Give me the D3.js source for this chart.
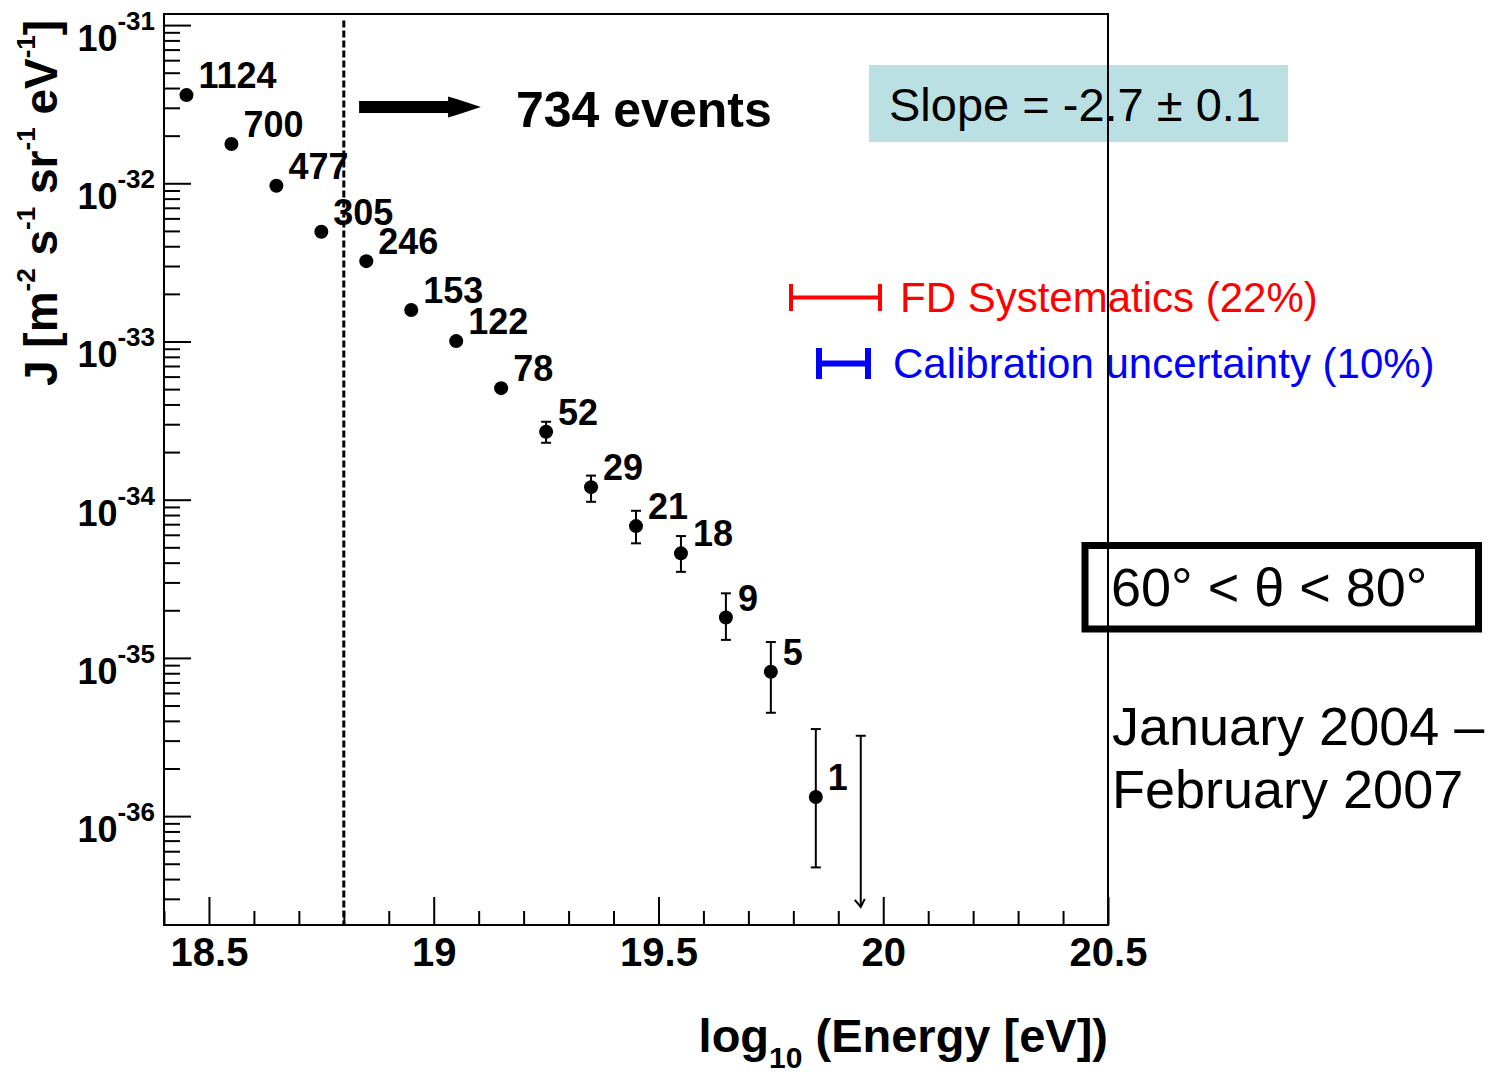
<!DOCTYPE html>
<html>
<head>
<meta charset="utf-8">
<script src="https://cdn.jsdelivr.net/npm/d3@7"></script>
<style>
  html, body { margin: 0; padding: 0; background: #fff; }
  svg { display: block; }
  text { font-family: "Liberation Sans", Arial, Helvetica, sans-serif; }
</style>
</head>
<body>
<svg id="chart" width="1507" height="1075"></svg>
<script>
// Energy bin centres, log10(E/eV)
const energyBins = [18.45, 18.55, 18.65, 18.75, 18.85, 18.95, 19.05, 19.15,
                    19.25, 19.35, 19.45, 19.55, 19.65, 19.75, 19.85];
// Flux J [m^-2 s^-1 sr^-1 eV^-1]
const flux = [3.61e-32, 1.77e-32, 9.64e-33, 4.94e-33, 3.22e-33, 1.58e-33, 1.006e-33, 5.07e-34,
              2.69e-34, 1.20e-34, 6.81e-35, 4.58e-35, 1.80e-35, 8.17e-36, 1.32e-36];
const fluxLow = [3.52e-32, 1.72e-32, 9.30e-33, 4.72e-33, 3.06e-33, 1.47e-33, 0.93e-33, 4.70e-34,
                 2.29e-34, 9.70e-35, 5.30e-35, 3.50e-35, 1.30e-35, 4.50e-36, 4.74e-37];
const fluxHigh = [3.70e-32, 1.82e-32, 1.00e-32, 5.17e-33, 3.39e-33, 1.70e-33, 1.09e-33, 5.45e-34,
                  3.11e-34, 1.42e-34, 8.51e-35, 5.89e-35, 2.56e-35, 1.26e-35, 3.55e-36];
// Number of events per bin
const eventCounts = [1124, 700, 477, 305, 246, 153, 122, 78, 52, 29, 21, 18, 9, 5, 1];
// Upper limit in the last bin
const limitBin = 19.95;
const limitTop = 3.22e-36;
const limitBottom = 2.67e-37;
// Energy threshold above which events are counted
const thresholdEnergy = 18.8;
const thresholdTop = 1.07e-31;

// Axis ticks
const xMajorTicks = [18.5, 19, 19.5, 20, 20.5];
const xMinorTicks = d3.range(184, 205).map(d => d / 10).filter(d => !xMajorTicks.includes(d));
const yMajorExponents = [-31, -32, -33, -34, -35, -36];

const xDomain = [18.4, 20.5];
const yDomain = [2.05e-37, 1.175e-31];

const svg = d3.select("#chart");
const frame = { left: 164, right: 1108, top: 14, bottom: 925 };

const x = d3.scaleLinear().domain(xDomain).range([frame.left, frame.right]);
const y = d3.scaleLog().domain(yDomain).range([frame.bottom, frame.top]);

const font = '"Liberation Sans", Arial, Helvetica, sans-serif';

// ---- Axes ----
const yMajor = yMajorExponents.map(e => Math.pow(10, e));
const yMinor = [];
for (let e = -37; e <= -31; e++) {
  for (let k = 2; k <= 9; k++) {
    const v = k * Math.pow(10, e);
    if (v >= yDomain[0] && v <= yDomain[1]) yMinor.push(v);
  }
}

const axisStyle = g => {
  g.select(".domain").remove();
  g.selectAll("line").attr("stroke", "#000").attr("stroke-width", 2);
};

svg.append("g")
  .attr("transform", `translate(${frame.left},0)`)
  .call(d3.axisLeft(y).tickValues(yMinor).tickSize(-16).tickFormat(""))
  .call(axisStyle);
svg.append("g")
  .attr("transform", `translate(${frame.left},0)`)
  .call(d3.axisLeft(y).tickValues(yMajor).tickSize(-27).tickFormat(""))
  .call(axisStyle);

svg.append("g")
  .attr("transform", `translate(0,${frame.bottom})`)
  .call(d3.axisBottom(x).tickValues(xMinorTicks).tickSize(-14).tickFormat(""))
  .call(axisStyle);
const xAxisG = svg.append("g")
  .attr("transform", `translate(0,${frame.bottom})`)
  .call(d3.axisBottom(x).tickValues(xMajorTicks).tickSize(-28).tickPadding(13)
        .tickFormat(d => String(d)))
  .call(axisStyle);
xAxisG.selectAll("text")
  .attr("font-family", font)
  .attr("font-size", 40)
  .attr("font-weight", "bold")
  .attr("fill", "#000");

// Y tick labels as 10^n
const yLabels = svg.append("g");
yMajorExponents.forEach(e => {
  const t = yLabels.append("text")
    .attr("x", 155)
    .attr("y", y(Math.pow(10, e)) + 26)
    .attr("text-anchor", "end")
    .attr("font-weight", "bold")
    .attr("fill", "#000");
  t.append("tspan").attr("font-size", 36).text("10");
  t.append("tspan").attr("font-size", 26).attr("dy", -21).text(String(e));
});

// Axis titles
const yTitle = svg.append("text")
  .attr("transform", `translate(57,386) rotate(-90)`)
  .attr("font-weight", "bold")
  .attr("font-size", 46)
  .attr("fill", "#000");
const supShift = 22;
const yTitleParts = [["J [m", false], ["-2", true], [" s", false], ["-1", true],
                     [" sr", false], ["-1", true], [" eV", false], ["-1", true], ["]", false]];
let prevSup = false;
yTitleParts.forEach(([s, sup]) => {
  const ts = yTitle.append("tspan").text(s);
  if (sup) ts.attr("font-size", 26).attr("dy", -supShift);
  else if (prevSup) ts.attr("dy", supShift);
  prevSup = sup;
});

const xTitle = svg.append("text")
  .attr("x", frame.right)
  .attr("y", 1052)
  .attr("text-anchor", "end")
  .attr("font-weight", "bold")
  .attr("font-size", 47)
  .attr("fill", "#000");
xTitle.append("tspan").text("log");
xTitle.append("tspan").attr("font-size", 30).attr("dy", 16).text("10");
xTitle.append("tspan").attr("dy", -16).text(" (Energy [eV])");

// ---- Threshold line and annotation ----
svg.append("line")
  .attr("x1", x(thresholdEnergy)).attr("x2", x(thresholdEnergy))
  .attr("y1", y(thresholdTop)).attr("y2", frame.bottom)
  .attr("stroke", "#000").attr("stroke-width", 3)
  .attr("stroke-dasharray", "7,3");

const arrowY = 107;
const ax0 = x(18.834), axHead = x(19.032), axTip = x(19.105);
svg.append("path")
  .attr("d", `M${ax0},${arrowY - 6} L${axHead},${arrowY - 6} L${axHead},${arrowY - 10.5}
              L${axHead + 10},${arrowY - 7.5} L${axTip},${arrowY} L${axHead + 10},${arrowY + 7.5}
              L${axHead},${arrowY + 10.5} L${axHead},${arrowY + 6} L${ax0},${arrowY + 6} Z`)
  .attr("fill", "#000");

svg.append("text")
  .attr("x", 516).attr("y", 127)
  .attr("font-weight", "bold").attr("font-size", 50)
  .attr("fill", "#000")
  .text("734 events");

// ---- Data points ----
const pts = energyBins.map((e, i) => ({
  e, j: flux[i], lo: fluxLow[i], hi: fluxHigh[i], n: eventCounts[i]
}));
const r = 7;
const capW = 5;

const pg = svg.append("g");
pts.forEach(p => {
  const cx = x(p.e), cy = y(p.j), yHi = y(p.hi), yLo = y(p.lo);
  pg.append("line").attr("x1", cx).attr("x2", cx).attr("y1", yHi).attr("y2", yLo)
    .attr("stroke", "#000").attr("stroke-width", 2);
  if (cy - yHi > r + 1) {
    pg.append("line").attr("x1", cx - capW).attr("x2", cx + capW).attr("y1", yHi).attr("y2", yHi)
      .attr("stroke", "#000").attr("stroke-width", 2);
  }
  if (yLo - cy > r + 1) {
    pg.append("line").attr("x1", cx - capW).attr("x2", cx + capW).attr("y1", yLo).attr("y2", yLo)
      .attr("stroke", "#000").attr("stroke-width", 2);
  }
  pg.append("circle").attr("cx", cx).attr("cy", cy).attr("r", r).attr("fill", "#000");
  pg.append("text")
    .attr("x", cx + 12).attr("y", cy - 7)
    .attr("font-weight", "bold").attr("font-size", 36)
    .attr("fill", "#000")
    .text(p.n);
});

// Upper limit in the last bin
const lx = x(limitBin);
pg.append("line").attr("x1", lx).attr("x2", lx).attr("y1", y(limitTop)).attr("y2", y(limitBottom))
  .attr("stroke", "#000").attr("stroke-width", 2);
pg.append("line").attr("x1", lx - capW).attr("x2", lx + capW)
  .attr("y1", y(limitTop)).attr("y2", y(limitTop))
  .attr("stroke", "#000").attr("stroke-width", 2);
pg.append("path")
  .attr("d", `M${lx - 6},${y(limitBottom) - 7} L${lx},${y(limitBottom)} L${lx + 4},${y(limitBottom) - 8}`)
  .attr("fill", "none").attr("stroke", "#000").attr("stroke-width", 2);

// ---- Slope box ----
svg.append("rect")
  .attr("x", 869).attr("y", 65).attr("width", 419).attr("height", 77)
  .attr("fill", "#bae0e3");
svg.append("text")
  .attr("x", 889).attr("y", 121)
  .attr("font-size", 47).attr("fill", "#000")
  .text("Slope = -2.7 \u00b1 0.1");

// ---- Systematics legend ----
svg.append("path")
  .attr("d", "M791,284 V311 M791,297.5 H880 M880,284 V311")
  .attr("fill", "none").attr("stroke", "#ff0000").attr("stroke-width", 4);
svg.append("text")
  .attr("x", 900).attr("y", 312)
  .attr("font-size", 42).attr("fill", "#ff0000")
  .text("FD Systematics (22%)");

svg.append("path")
  .attr("d", "M819,348 V379 M819,363.5 H868 M868,348 V379")
  .attr("fill", "none").attr("stroke", "#0000ff").attr("stroke-width", 6);
svg.append("text")
  .attr("x", 893).attr("y", 378)
  .attr("font-size", 42).attr("fill", "#0000ff")
  .text("Calibration uncertainty (10%)");

// ---- Zenith range and period ----
svg.append("text")
  .attr("x", 1111).attr("y", 606)
  .attr("font-size", 54).attr("fill", "#000")
  .text("60\u00b0 < \u03b8 < 80\u00b0");
svg.append("text")
  .attr("x", 1112).attr("y", 745)
  .attr("font-size", 54).attr("fill", "#000")
  .text("January 2004 \u2013");
svg.append("text")
  .attr("x", 1112).attr("y", 808)
  .attr("font-size", 54).attr("fill", "#000")
  .text("February 2007");

// ---- Frame ----
svg.append("rect")
  .attr("x", frame.left).attr("y", frame.top)
  .attr("width", frame.right - frame.left).attr("height", frame.bottom - frame.top)
  .attr("fill", "none").attr("stroke", "#000").attr("stroke-width", 2);

svg.append("rect")
  .attr("x", 1085).attr("y", 545.5).attr("width", 393.5).attr("height", 83.5)
  .attr("fill", "none").attr("stroke", "#000").attr("stroke-width", 7);
</script>
</body>
</html>
